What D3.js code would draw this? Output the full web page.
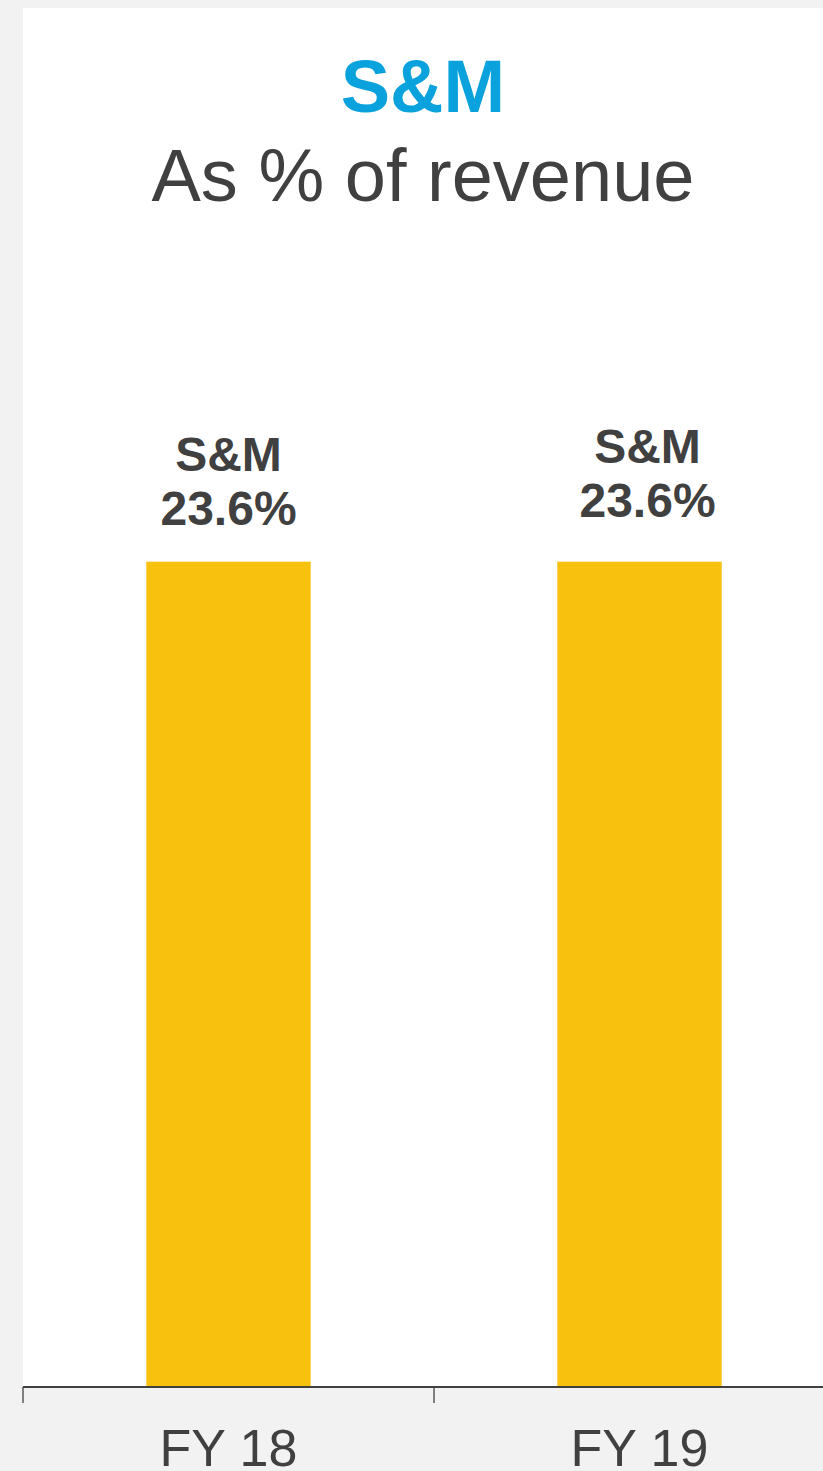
<!DOCTYPE html>
<html lang="en">
<head>
    <meta charset="UTF-8">
    <title>S&amp;M as % of revenue</title>
    <style>
        body { margin: 0; background: #f2f2f2; }
        svg { display: block; font-family: "Liberation Sans", Arial, sans-serif; }
    </style>
</head>
<body>
    <div id="chart"></div>

    <script src="https://d3js.org/d3.v7.min.js"></script>
    <script>
        // data
        var categories = ["FY 18", "FY 19"];
        var values = [23.6, 23.6];
        var seriesName = "S&M";

        var width = 823, height = 1471;
        var margin = { top: 8, left: 23 };
        var plotRight = 845;      // chart continues past the visible edge
        var baseY = 1387;

        var svg = d3.select("#chart")
            .append("svg")
                .attr("width", width)
                .attr("height", height);

        // white plot panel
        svg.append("rect")
            .attr("x", margin.left)
            .attr("y", margin.top)
            .attr("width", plotRight - margin.left)
            .attr("height", baseY - margin.top)
            .attr("fill", "#ffffff");

        var xScale = d3.scaleBand()
            .domain(categories)
            .range([margin.left, plotRight]);

        var yScale = d3.scaleLinear()
            .domain([0, 35])
            .range([baseY, 163]);

        var barWidth = xScale.bandwidth() * 0.4;

        // titles
        svg.append("text")
            .attr("x", 423)
            .attr("y", 112)
            .attr("text-anchor", "middle")
            .attr("font-size", 74)
            .attr("font-weight", "bold")
            .attr("fill", "#09a2dd")
            .text(seriesName);

        svg.append("text")
            .attr("x", 423)
            .attr("y", 201)
            .attr("text-anchor", "middle")
            .attr("font-size", 74)
            .attr("fill", "#404040")
            .text("As % of revenue");

        // bars
        svg.selectAll("rect.bar")
            .data(values)
            .enter()
            .append("rect")
                .attr("class", "bar")
                .attr("x", function(d, i){ return xScale(categories[i]) + (xScale.bandwidth() - barWidth) / 2; })
                .attr("y", function(d){ return yScale(d); })
                .attr("width", barWidth)
                .attr("height", function(d){ return baseY - yScale(d); })
                .attr("fill", "#f7c10e");

        // data labels (the second one was dragged a bit up and right in the original)
        var nudge = [[0, 0], [8, -8]];
        var labels = svg.selectAll("text.lbl")
            .data(values)
            .enter()
            .append("text")
                .attr("class", "lbl")
                .attr("text-anchor", "middle")
                .attr("font-size", 48)
                .attr("font-weight", "bold")
                .attr("fill", "#404040")
                .attr("transform", function(d, i){
                    var cx = xScale(categories[i]) + xScale.bandwidth() / 2 + nudge[i][0];
                    return "translate(" + cx + "," + (yScale(d) - 37 + nudge[i][1]) + ")";
                });

        labels.append("tspan")
            .attr("x", 0)
            .attr("y", -54)
            .text(seriesName);
        labels.append("tspan")
            .attr("x", 0)
            .attr("y", 0)
            .text(function(d){ return d3.format(".1f")(d) + "%"; });

        // category axis: labels from d3 axis, tick marks between categories
        var xAxis = d3.axisBottom(xScale)
            .tickSize(0)
            .tickPadding(42);

        var axisG = svg.append("g")
            .attr("transform", "translate(0," + baseY + ")")
            .call(xAxis);
        axisG.select(".domain").remove();
        axisG.selectAll("text")
            .attr("font-size", 52)
            .attr("font-family", "Liberation Sans, Arial, sans-serif")
            .attr("fill", "#404040");

        var tickXs = categories.map(function(c){ return xScale(c); }).concat([plotRight]);
        svg.selectAll("line.tick")
            .data(tickXs)
            .enter()
            .append("line")
                .attr("class", "tick")
                .attr("x1", function(d){ return d; })
                .attr("x2", function(d){ return d; })
                .attr("y1", baseY)
                .attr("y2", baseY + 16)
                .attr("stroke", "#5a5a5a")
                .attr("stroke-width", 1.5);

        svg.append("line")
            .attr("x1", margin.left)
            .attr("x2", plotRight)
            .attr("y1", baseY)
            .attr("y2", baseY)
            .attr("stroke", "#404040")
            .attr("stroke-width", 2);
    </script>
</body>
</html>
